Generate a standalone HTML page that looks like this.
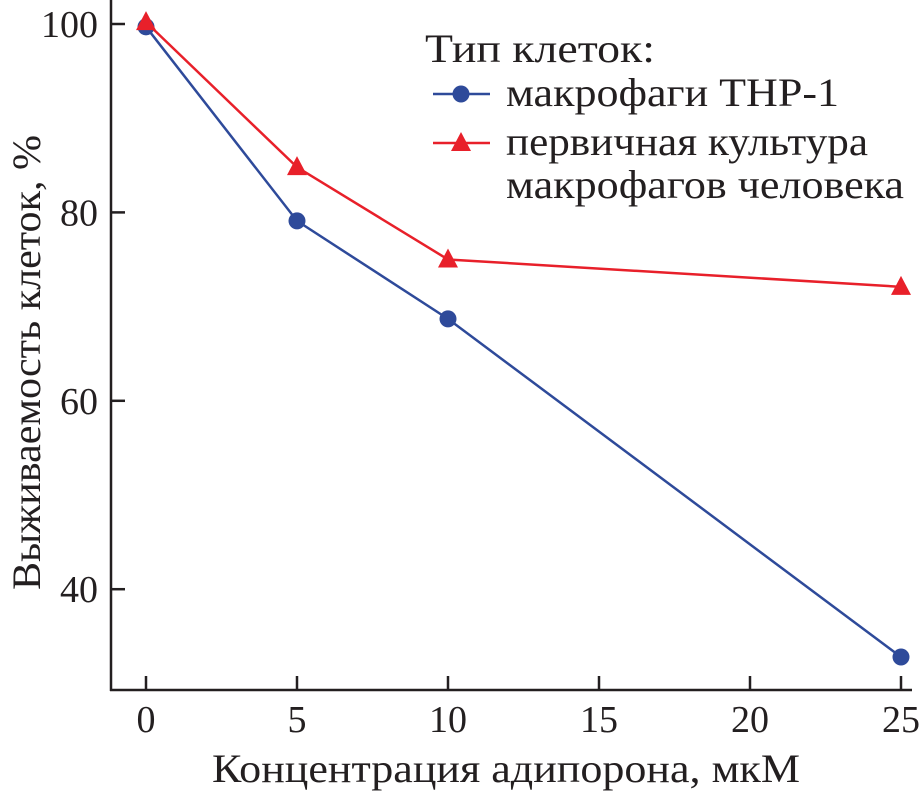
<!DOCTYPE html>
<html><head><meta charset="utf-8"><style>
html,body{margin:0;padding:0;background:#fff;}
svg{display:block;font-family:"Liberation Serif",serif;}
</style></head><body>
<svg id="chart" width="921" height="793" viewBox="0 0 921 793" xmlns="http://www.w3.org/2000/svg">
<g id="axes"></g>
<g id="series"></g>
<g id="legend" font-family="Liberation Serif, serif">
<text x="425" y="62" font-size="40" fill="#231f20" textLength="230" lengthAdjust="spacingAndGlyphs">Тип клеток:</text>
<line x1="433" y1="94" x2="490" y2="94" stroke="#2e4a9a" stroke-width="2.5"/>
<circle cx="461" cy="94" r="8.5" fill="#2e4a9a"/>
<text x="506" y="106" font-size="40" fill="#231f20" textLength="333" lengthAdjust="spacingAndGlyphs">макрофаги THP-1</text>
<line x1="433" y1="143" x2="490" y2="143" stroke="#e8202a" stroke-width="2.5"/>
<polygon points="461,132 471,151 451,151" fill="#e8202a"/>
<text x="506" y="155" font-size="40" fill="#231f20" textLength="362" lengthAdjust="spacingAndGlyphs">первичная культура</text>
<text x="506" y="198" font-size="40" fill="#231f20" textLength="398" lengthAdjust="spacingAndGlyphs">макрофагов человека</text>
</g>
<text x="212" y="782" font-size="40" fill="#231f20" textLength="588" lengthAdjust="spacingAndGlyphs">Концентрация адипорона, мкМ</text>
<text transform="translate(40,590) rotate(-90)" font-size="40" fill="#231f20" textLength="455" lengthAdjust="spacingAndGlyphs">Выживаемость клеток, %</text>
</svg>
<script>
const xTicks=[0,5,10,15,20,25];
const yTicks=[40,60,80,100];
const concentrations=[0,5,10,25];
const thp1Values=[99.7,79.1,68.7,32.8];
const primaryValues=[100.2,84.8,75.0,72.1];
const NS="http://www.w3.org/2000/svg";
function sx(v){return 146+v*30.2;}
function sy(v){return 24+(100-v)*9.42;}
function mk(tag,attrs,parent){const e=document.createElementNS(NS,tag);for(const k in attrs)e.setAttribute(k,attrs[k]);parent.appendChild(e);return e;}
const axes=document.getElementById('axes');
let a=mk('line',{x1:111,y1:0,x2:111,y2:691,stroke:'#231f20','stroke-width':2.5},axes);


a=mk('line',{x1:110,y1:690,x2:912,y2:690,stroke:'#231f20','stroke-width':2.5},axes);


xTicks.forEach(t=>{
 const l=mk('line',{x1:sx(t),y1:690,x2:sx(t),y2:676,stroke:'#231f20','stroke-width':2.5},axes);
 
 
 const tx=mk('text',{x:sx(t),y:732,'font-size':38,'text-anchor':'middle',fill:'#231f20'},axes);
 tx.textContent=t;
 
 
});
yTicks.forEach(t=>{
 const l=mk('line',{x1:111,y1:sy(t),x2:125,y2:sy(t),stroke:'#231f20','stroke-width':2.5},axes);
 
 
 const tx=mk('text',{x:98,y:sy(t)+13,'font-size':38,'text-anchor':'end',fill:'#231f20'},axes);
 tx.textContent=t;
 
 
});
const ser=document.getElementById('series');
function drawSeries(vals,color,shape,name){
 const pts=concentrations.map((c,i)=>sx(c)+','+sy(vals[i])).join(' ');
 const pl=mk('polyline',{points:pts,fill:'none',stroke:color,'stroke-width':2.5},ser);
 
 
 concentrations.forEach((c,i)=>{
  const x=sx(c),y=sy(vals[i]);let m;
  if(shape==='circle')m=mk('circle',{cx:x,cy:y,r:8.5,fill:color},ser);
  else m=mk('polygon',{points:`${x},${y-11} ${x+10},${y+8} ${x-10},${y+8}`,fill:color},ser);
  
  
 });
}
drawSeries(thp1Values,'#2e4a9a','circle','thp1');
drawSeries(primaryValues,'#e8202a','triangle','primary');
</script>
</body></html>
